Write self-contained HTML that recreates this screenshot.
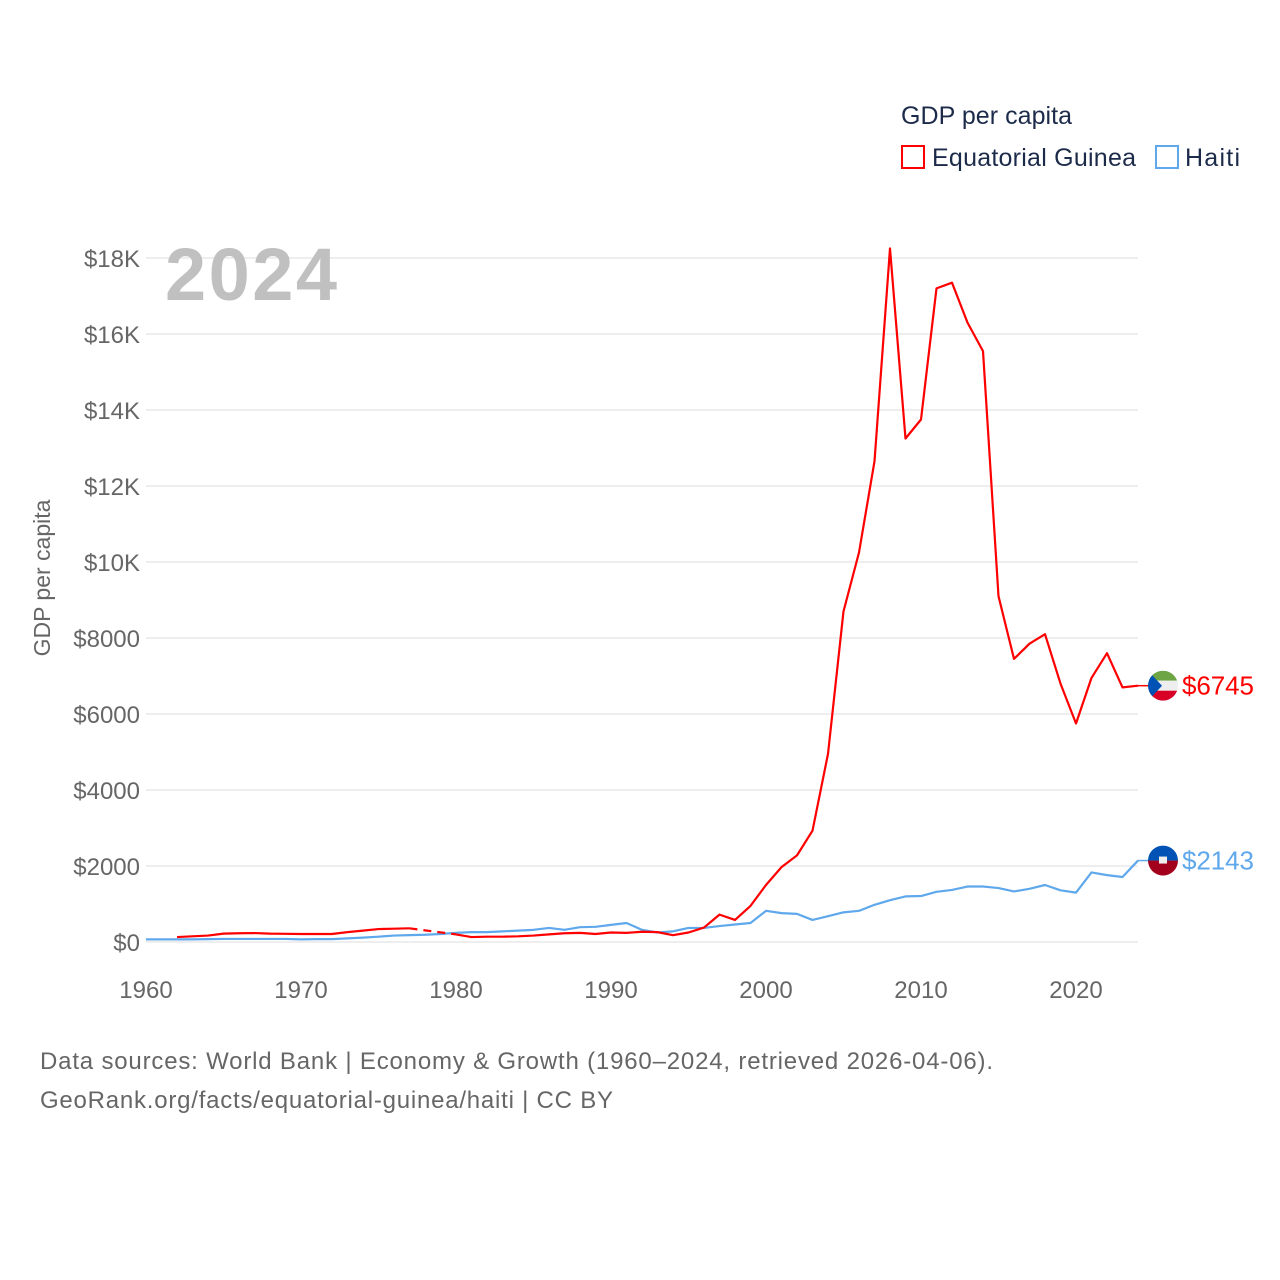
<!DOCTYPE html>
<html><head><meta charset="utf-8">
<style>
html,body{margin:0;padding:0;background:#fff;width:1280px;height:1280px;overflow:hidden;font-family:"Liberation Sans",sans-serif;}
svg text{font-family:"Liberation Sans",sans-serif;}
</style></head>
<body>
<svg id="chart" width="1280" height="1280" viewBox="0 0 1280 1280" xmlns="http://www.w3.org/2000/svg">
  <text x="901" y="124" font-size="25" fill="#1d2b4a" textLength="171">GDP per capita</text>
  <rect x="902" y="146" width="22" height="22" fill="none" stroke="#ff0000" stroke-width="2"/>
  <text x="932" y="166" font-size="25" fill="#1d2b4a" textLength="204">Equatorial Guinea</text>
  <rect x="1156" y="146" width="22" height="22" fill="none" stroke="#5fa8ec" stroke-width="2"/>
  <text x="1185" y="166" font-size="25" fill="#1d2b4a" textLength="55">Haiti</text>
  <g id="grid"></g>
  <text x="165" y="300" font-size="74" font-weight="bold" fill="#c0c0c0" textLength="172">2024</text>
  <g id="yticks"></g>
  <g id="xticks"></g>
  <text transform="translate(50,578) rotate(-90)" text-anchor="middle" font-size="23" fill="#666">GDP per capita</text>
  <g id="series"></g>
  <text x="40" y="1069" font-size="24" fill="#666" textLength="953">Data sources: World Bank | Economy &amp; Growth (1960–2024, retrieved 2026-04-06).</text>
  <text x="40" y="1108" font-size="24" fill="#666" textLength="573">GeoRank.org/facts/equatorial-guinea/haiti | CC BY</text>
</svg>
<script>
const years = [];
for (let y = 1960; y <= 2024; y++) years.push(y);
const eqGuinea = [null,null,130,150,170,220,230,235,220,215,210,210,210,260,300,340,350,360,null,null,
 200,130,140,140,150,170,200,230,240,210,250,240,270,260,180,250,380,720,580,950,
 1500,1970,2280,2930,4950,8700,10250,12650,18250,13250,13750,17200,17350,16300,15550,9100,7450,7850,8100,6800,
 5750,6950,7600,6700,6745];
const haiti = [70,70,70,70,75,80,80,80,80,80,70,75,75,95,115,140,170,180,190,210,
 240,260,260,280,300,320,370,320,390,400,450,500,320,250,280,370,370,420,460,500,
 820,760,740,580,680,780,820,980,1100,1200,1210,1320,1370,1460,1460,1420,1330,1400,1500,1360,
 1300,1830,1760,1710,2143];
const yTicks = [0,2000,4000,6000,8000,10000,12000,14000,16000,18000];
const yTickLabels = ["$0","$2000","$4000","$6000","$8000","$10K","$12K","$14K","$16K","$18K"];
const xTicks = [1960,1970,1980,1990,2000,2010,2020];

const NS="http://www.w3.org/2000/svg";
const X = yr => 146 + (yr-1960)*(1138-146)/64;
const Y = v => 942 - v*(942-258)/18000;
function mk(tag, attrs, parent){const e=document.createElementNS(NS,tag);for(const k in attrs)e.setAttribute(k,attrs[k]);parent.appendChild(e);return e;}

const grid=document.getElementById('grid'), yt=document.getElementById('yticks'), xt=document.getElementById('xticks'), ser=document.getElementById('series');
yTicks.forEach((v,i)=>{
  const l=mk('line',{x1:146,x2:1138,y1:Y(v),y2:Y(v),stroke:'#e8e8e8','stroke-width':1.5},grid);
  
  
  const t=mk('text',{x:140,y:Y(v)+9,'text-anchor':'end','font-size':24,fill:'#666'},yt);
  t.textContent=yTickLabels[i];
  
  
});
xTicks.forEach(yr=>{
  const t=mk('text',{x:X(yr),y:998,'text-anchor':'middle','font-size':24,fill:'#666'},xt);
  t.textContent=yr;
  
  
});

function drawSeries(vals,color,name){
  let segs=[],cur=[],prev=null,gaps=[];
  vals.forEach((v,i)=>{
    if(v==null){ if(cur.length){segs.push(cur);prev=cur[cur.length-1];cur=[];} return; }
    const p=[X(years[i]),Y(v)];
    if(!cur.length && prev){gaps.push([prev,p]);prev=null;}
    cur.push(p);
  });
  if(cur.length)segs.push(cur);
  segs.forEach(s=>{
    const p=mk('path',{d:'M'+s.map(q=>q.join(',')).join('L'),fill:'none',stroke:color,'stroke-width':2.2,'stroke-linejoin':'round'},ser);
    
    
  });
  gaps.forEach(g=>{
    const p=mk('path',{d:'M'+g[0].join(',')+'L'+g[1].join(','),fill:'none',stroke:color,'stroke-width':2.2,'stroke-dasharray':'8,6'},ser);
    
    
  });
}
drawSeries(haiti,'#5fa8ec','haiti');
drawSeries(eqGuinea,'#ff0000','equatorial-guinea');

function endLabel(v,color,name,flag){
  const y=Y(v);
  const ln=mk('line',{x1:1138,x2:1150,y1:y,y2:y,stroke:color,'stroke-width':1.5},ser);
  
  
  const g=mk('g',{},ser);
  
  
  const cid='clip-'+name;
  const cp=mk('clipPath',{id:cid},g); mk('circle',{cx:1163,cy:y,r:15},cp);
  const inner=mk('g',{'clip-path':'url(#'+cid+')'},g);
  flag(inner,y);
  const t=mk('text',{x:1182,y:y+9,'font-size':26,fill:color,textLength:72},ser);
  t.textContent='$'+v;
  
  
}
endLabel(eqGuinea[eqGuinea.length-1],'#ff0000','equatorial-guinea',(g,y)=>{
  mk('rect',{x:1148,y:y-15,width:30,height:10,fill:'#6da544'},g);
  mk('rect',{x:1148,y:y-5,width:30,height:10,fill:'#eeeeee'},g);
  mk('rect',{x:1148,y:y+5,width:30,height:10,fill:'#d80027'},g);
  mk('polygon',{points:`1148,${y-15} 1162,${y} 1148,${y+15}`,fill:'#0052b4'},g);
});
endLabel(haiti[haiti.length-1],'#5fa8ec','haiti',(g,y)=>{
  mk('rect',{x:1148,y:y-15,width:30,height:15,fill:'#0052b4'},g);
  mk('rect',{x:1148,y:y,width:30,height:15,fill:'#a2001d'},g);
  mk('rect',{x:1159,y:y-4,width:8,height:7,fill:'#eee'},g);
});
</script>
</body></html>
